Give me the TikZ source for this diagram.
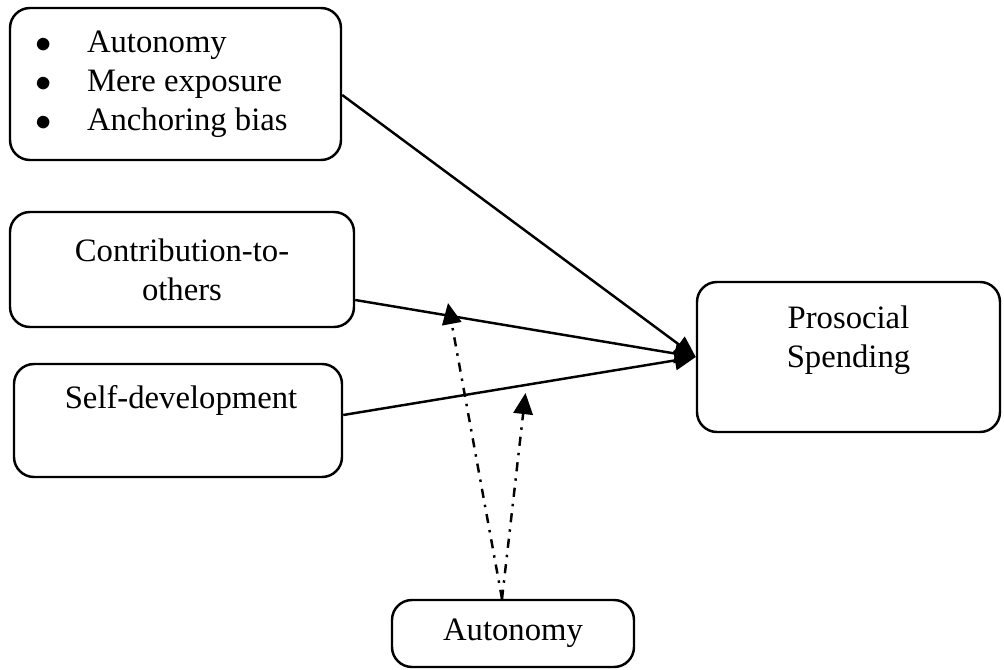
\documentclass[tikz,border=0pt]{standalone}
\usepackage{fontspec}
\setmainfont{Liberation Serif}
\usetikzlibrary{arrows.meta, positioning}

\begin{document}
\begin{tikzpicture}[>={Triangle[length=6pt,width=5.5pt]}, line width=0.7pt,
	every node/.style={font=\fontsize{9.3}{11.1}\selectfont},
	box/.style={draw, rounded corners=0.2cm, inner sep=0pt, align=center},
	modline/.style={dash pattern=on 2.6pt off 2pt on 0.7pt off 2pt, ->}]
		\useasboundingbox (0,0) rectangle (10.04,-6.70);
		% Boxes
		\node[box, minimum width=3.31cm, minimum height=1.52cm] (motives) at (1.755,-0.84) {};
		\node[box, minimum width=3.44cm, minimum height=1.15cm] (contrib) at (1.82,-2.695) {Contribution-to-\\others};
		\node[box, minimum width=3.28cm, minimum height=1.13cm] (selfdev) at (1.78,-4.205) {};
		\node[box, minimum width=3.03cm, minimum height=1.50cm] (prosocial) at (8.485,-3.57) {};
		\node[box, minimum width=2.42cm, minimum height=0.67cm] (autonomy) at (5.13,-6.335) {Autonomy};
		
		% Labels
		\node[inner sep=0pt, align=left, right=0.25cm of motives.west] (motiveslist) {%
			\makebox[0.52cm][l]{$\bullet$}Autonomy\\
			\makebox[0.52cm][l]{$\bullet$}Mere exposure\\
			\makebox[0.52cm][l]{$\bullet$}Anchoring bias};
		\node[inner sep=0pt] (selfdevtext) at ([xshift=0.03cm,yshift=0.2cm]selfdev.center) {Self-development};
		\node[inner sep=0pt, align=center] (prosocialtext) at ([yshift=0.17cm]prosocial.center) {Prosocial\\Spending};
		
		% Paths
		\draw[->] ([yshift=-0.11cm]motives.east) -- (prosocial.west);
		\draw[->] ([yshift=-0.305cm]contrib.east) -- (prosocial.west);
		\draw[->] ([yshift=0.055cm]selfdev.east) -- (prosocial.west);
		
		% Moderation
		\coordinate (modA) at (4.48,-3.03);
		\coordinate (modB) at (5.255,-3.93);
		\draw[modline] ([xshift=-0.11cm]autonomy.north) -- (modA);
		\draw[modline] ([xshift=-0.11cm]autonomy.north) -- (modB);
	\end{tikzpicture}
\end{document}
